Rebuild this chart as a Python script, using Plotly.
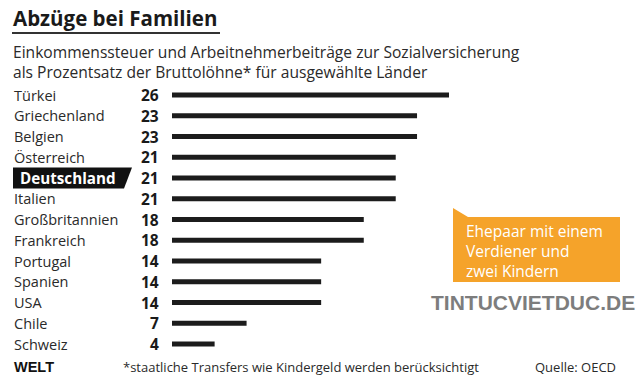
import plotly.graph_objects as go

countries = ["Türkei", "Griechenland", "Belgien", "Österreich", "Deutschland", "Italien",
             "Großbritannien", "Frankreich", "Portugal", "Spanien", "USA", "Chile", "Schweiz"]
values = [26, 23, 23, 21, 21, 21, 18, 18, 14, 14, 14, 7, 4]
highlight = "Deutschland"

title = "Abzüge bei Familien"
subtitle = ["Einkommenssteuer und Arbeitnehmerbeiträge zur Sozialversicherung",
            "als Prozentsatz der Bruttolöhne* für ausgewählte Länder"]
callout = ["Ehepaar mit einem", "Verdiener und", "zwei Kindern"]
footnote = "*staatliche Transfers wie Kindergeld werden berücksichtigt"
source = "Quelle: OECD"
logo = "WELT"
watermark = "TINTUCVIETDUC.DE"

W, H = 640, 386
FONT = "Open Sans"
BAR = "#1c1c1c"
TXT = "#2a2a2a"
ORANGE = "#F5A32A"

def px(x):
    return x / W

def py(y):
    return 1 - y / H

row_top, row_bot = 95, 344
step = (row_bot - row_top) / (len(countries) - 1)

fig = go.Figure()
fig.add_trace(go.Bar(
    x=values, y=countries, orientation="h",
    marker=dict(color=BAR, line=dict(width=0)),
    width=0.25, hoverinfo="skip", showlegend=False,
))

fig.update_layout(
    width=W, height=H,
    margin=dict(l=0, r=0, t=0, b=0),
    paper_bgcolor="white", plot_bgcolor="white",
    font=dict(family=FONT, color=TXT),
    xaxis=dict(domain=[px(172), px(449)], range=[0, max(values)], visible=False, fixedrange=True),
    yaxis=dict(domain=[py(row_bot + step / 2), py(row_top - step / 2)],
               range=[len(countries) - 0.5, -0.5], visible=False,
               categoryorder="array", categoryarray=countries, fixedrange=True),
)

ann = []
shapes = []

# title & underline
ann.append(dict(x=px(11), y=py(18), xref="paper", yref="paper", text="<b>" + title + "</b>",
                showarrow=False, xanchor="left", yanchor="middle",
                font=dict(size=20.5, color="#1a1a1a", family=FONT)))
shapes.append(dict(type="line", xref="paper", yref="paper", x0=px(12), x1=px(220), y0=py(33), y1=py(33),
                   line=dict(color="#333333", width=2)))
ann.append(dict(x=px(11), y=py(61.5), xref="paper", yref="paper", text="<br>".join(subtitle),
                showarrow=False, xanchor="left", yanchor="middle", align="left",
                font=dict(size=15.6, color=TXT)))

# labels & values
for c, v in zip(countries, values):
    if c == highlight:
        yc_pix = row_top + countries.index(c) * step
        shapes.append(dict(type="path", xref="paper", yref="paper",
                           path=f"M {px(13)} {py(yc_pix-10.5)} L {px(132)} {py(yc_pix-10.5)} "
                                f"L {px(124)} {py(yc_pix+10.5)} L {px(13)} {py(yc_pix+10.5)} Z",
                           fillcolor="#111111", line=dict(width=0), layer="below"))
        ann.append(dict(x=px(18), y=c, xref="paper", yref="y", text="<b>" + c + "</b>",
                        showarrow=False, xanchor="left", yanchor="middle",
                        font=dict(size=15.2, color="white")))
    else:
        ann.append(dict(x=px(12), y=c, xref="paper", yref="y", text=c,
                        showarrow=False, xanchor="left", yanchor="middle",
                        font=dict(size=14.5, color=TXT)))
    ann.append(dict(x=px(161), y=c, xref="paper", yref="y", text=f"<b>{v}</b>",
                    showarrow=False, xanchor="right", yanchor="middle",
                    font=dict(size=15.5, color="#1a1a1a")))

# callout box
shapes.append(dict(type="path", xref="paper", yref="paper",
                   path=f"M {px(453)} {py(208)} L {px(468)} {py(217)} L {px(620)} {py(217)} "
                        f"L {px(620)} {py(282)} L {px(453)} {py(282)} Z",
                   fillcolor=ORANGE, line=dict(width=0)))
ann.append(dict(x=px(464), y=py(250.5), xref="paper", yref="paper", text="<br>".join(callout),
                showarrow=False, xanchor="left", yanchor="middle", align="left",
                font=dict(size=15.5, color="white")))

# watermark
ann.append(dict(x=px(533), y=py(302), xref="paper", yref="paper", text="<b>" + watermark + "</b>",
                showarrow=False, xanchor="center", yanchor="middle",
                font=dict(size=21, color="#7d7d7d", family="Liberation Sans")))

# footer
ann.append(dict(x=px(12), y=py(367), xref="paper", yref="paper", text="<b>" + logo + "</b>",
                showarrow=False, xanchor="left", yanchor="middle",
                font=dict(size=14.5, color="#111111", family="Liberation Sans")))
ann.append(dict(x=px(121), y=py(367), xref="paper", yref="paper", text=footnote,
                showarrow=False, xanchor="left", yanchor="middle", font=dict(size=13, color=TXT)))
ann.append(dict(x=px(618), y=py(367), xref="paper", yref="paper", text=source,
                showarrow=False, xanchor="right", yanchor="middle", font=dict(size=13, color=TXT)))

fig.update_layout(annotations=ann, shapes=shapes)
fig.write_html("out.html", config={"displayModeBar": False},
               post_script="document.body.style.margin='0';")
